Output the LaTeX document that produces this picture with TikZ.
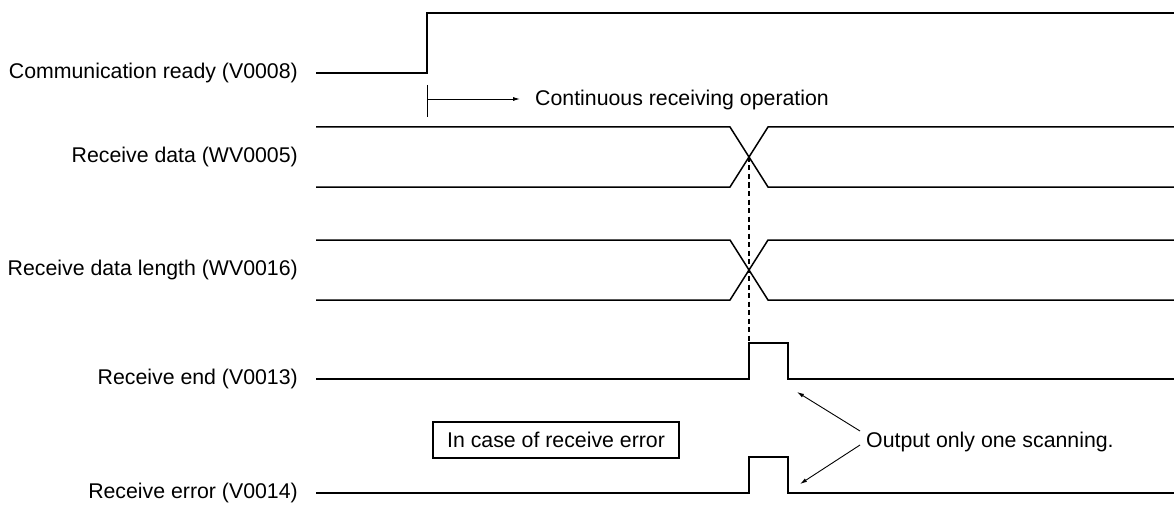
\documentclass[tikz,border=0pt]{standalone}
\usepackage{fontspec}
\setmainfont{Liberation Sans}
\usetikzlibrary{arrows.meta}
\begin{document}
\begin{tikzpicture}[x=1pt,y=-1pt,
  sig/.style={line width=1.5pt,line join=miter},
  lbl/.style={anchor=east,inner sep=0pt,font=\fontsize{21.3}{25}\selectfont},
  txt/.style={anchor=west,inner sep=0pt,font=\fontsize{21.3}{25}\selectfont},
  pointer/.style={line width=0.9pt,-{Latex[length=7pt,width=4pt]}}]
\useasboundingbox (0,0) rectangle (1174,505);

% signal names
\node[lbl] (cr)  at (298,73)  {Communication ready (V0008)};
\node[lbl] (rd)  at (298,157) {Receive data (WV0005)};
\node[lbl] (rdl) at (298,270) {Receive data length (WV0016)};
\node[lbl] (re)  at (298,379) {Receive end (V0013)};
\node[lbl] (rer) at (298,493) {Receive error (V0014)};

% communication ready
\draw[sig] (316,73) -- (427,73) -- (427,13) -- (1174,13);

% continuous receiving marker
\coordinate (tick) at (427,99);
\coordinate (tickend) at (520,99);
\draw[line width=0.9pt] (427,85) -- (427,117);
\draw[pointer] (tick) -- (tickend);
\node[txt] (cont) at (535,100) {Continuous receiving operation};

% receive data
\draw[sig] (316,127) -- (730,127) -- (768,187) -- (1174,187);
\draw[sig] (316,187) -- (730,187) -- (768,127) -- (1174,127);

% receive data length
\draw[sig] (316,240) -- (730,240) -- (768,300) -- (1174,300);
\draw[sig] (316,300) -- (730,300) -- (768,240) -- (1174,240);

% dashed timing reference
\draw[line width=1.2pt,dash pattern=on 5pt off 3.5pt] (749,157) -- (749,343);

% receive end
\draw[sig] (316,379) -- (749,379) -- (749,343) -- (788,343) -- (788,379) -- (1174,379);

% receive error
\draw[sig] (316,493) -- (749,493) -- (749,457) -- (788,457) -- (788,493) -- (1174,493);

% error case box
\node[draw,line width=1.2pt,minimum width=246pt,minimum height=36pt,inner sep=0pt,
      font=\fontsize{21.3}{25}\selectfont] (errbox) at (556,440) {In case of receive error};

% one-scan annotation
\node[txt] (once) at (866,442) {Output only one scanning.};
\coordinate (a1) at (860,431);
\coordinate (a2) at (860,445);
\coordinate (p1) at (797,392);
\coordinate (p2) at (800,484);
\draw[pointer] (a1) -- (p1);
\draw[pointer] (a2) -- (p2);
\end{tikzpicture}
\end{document}
